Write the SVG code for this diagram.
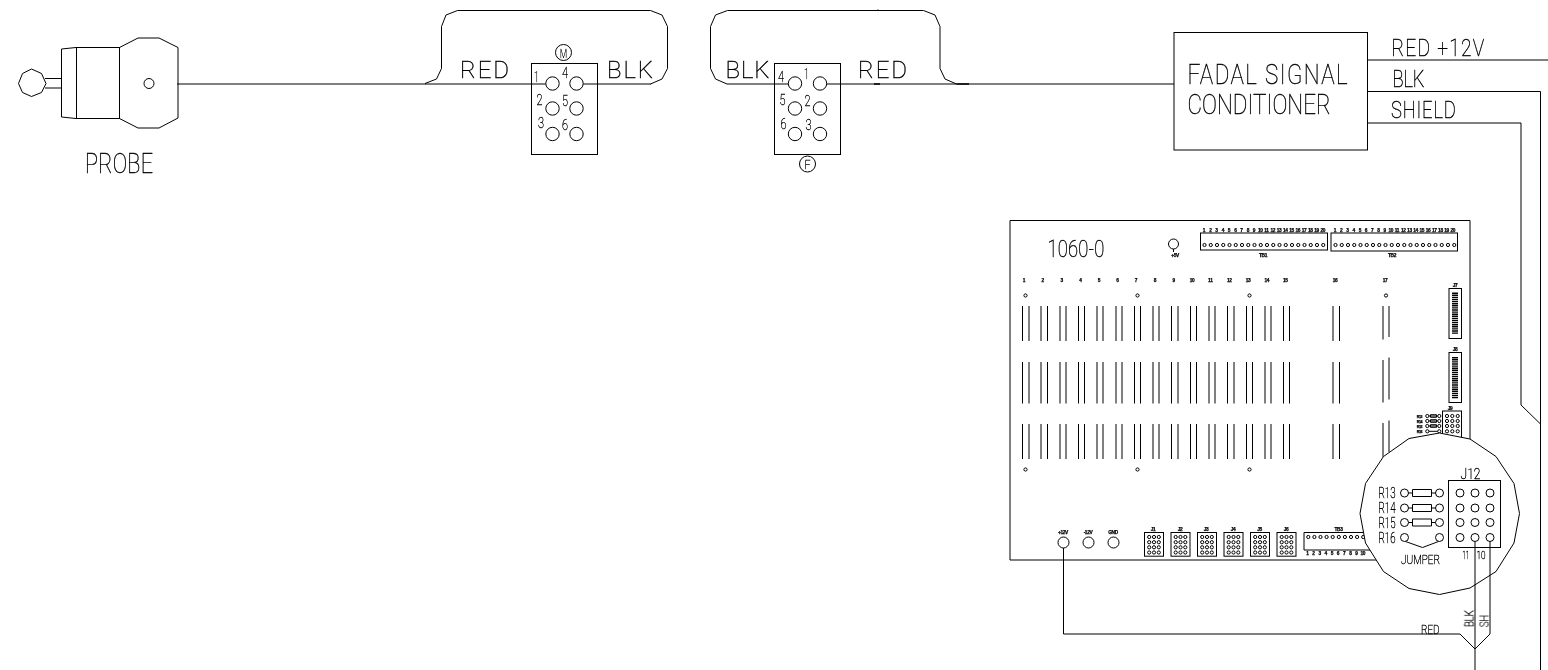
<svg xmlns="http://www.w3.org/2000/svg" width="1548" height="670" viewBox="0 0 1548 670">
<style>
.l{fill:none;stroke:#000;stroke-width:1}
.w{fill:#fff;stroke:#000;stroke-width:1}
.t{font-family:"Roboto","Liberation Sans",sans-serif;font-weight:100;fill:#000;stroke:#000;stroke-width:.4;filter:url(#gray)}
.u{font-family:"Roboto","Liberation Sans",sans-serif;font-weight:100;fill:#000;stroke:#000;stroke-width:.4;filter:url(#gray)}
.c{font-family:"Roboto","Liberation Sans",sans-serif;font-weight:100;fill:#000;stroke:#000;stroke-width:.35;text-anchor:middle;filter:url(#gray)}
.s{font-family:"Liberation Sans",sans-serif;font-weight:700;font-size:4.8px;letter-spacing:-.35px;fill:#000;stroke:#000;stroke-width:.25;text-anchor:middle;filter:url(#gray)}
.x{font-size:3.6px}
</style>
<defs>
<filter id="gray" x="-20%" y="-20%" width="140%" height="140%" color-interpolation-filters="sRGB"><feOffset dx="0" dy="0"/></filter>
<circle id="hole" r="1.6" class="l"/>
<circle id="pin" r="6.7" class="w"/>
<circle id="pad" r="4" class="l"/>
<g id="hdr">
<rect x="0" y="0" width="19" height="23.7" class="l"/>
<use href="#hole" x="4.7" y="4.5"/><use href="#hole" x="9.5" y="4.5"/><use href="#hole" x="14.3" y="4.5"/>
<use href="#hole" x="4.7" y="9.7"/><use href="#hole" x="9.5" y="9.7"/><use href="#hole" x="14.3" y="9.7"/>
<use href="#hole" x="4.7" y="14.8"/><use href="#hole" x="9.5" y="14.8"/><use href="#hole" x="14.3" y="14.8"/>
<use href="#hole" x="4.7" y="20"/><use href="#hole" x="9.5" y="20"/><use href="#hole" x="14.3" y="20"/>
</g>
<g id="strip">
<use href="#hole" x="0"/><use href="#hole" x="6.25"/><use href="#hole" x="12.5"/><use href="#hole" x="18.75"/><use href="#hole" x="25"/><use href="#hole" x="31.25"/><use href="#hole" x="37.5"/><use href="#hole" x="43.75"/><use href="#hole" x="50"/><use href="#hole" x="56.25"/><use href="#hole" x="62.5"/><use href="#hole" x="68.75"/><use href="#hole" x="75"/><use href="#hole" x="81.25"/><use href="#hole" x="87.5"/><use href="#hole" x="93.75"/><use href="#hole" x="100"/><use href="#hole" x="106.25"/><use href="#hole" x="112.5"/><use href="#hole" x="118.75"/>
</g>
<path id="dip" d="M0 0V42M3 0V42" fill="none" stroke="#000" stroke-width="3" stroke-dasharray="1.4 .7"/>
</defs>

<g id="probe">
<path class="l" d="M18.5 83.5L22.5 73.5L31.5 69L41.5 73.5L46 83.5L41.5 92.5L31.5 96.5L22.5 92.5Z"/>
<path class="l" d="M45 78.5H61.5M45 88H61.5M76 47.5L61.5 49V117L76 118.5"/>
<rect class="l" x="76.5" y="47.5" width="43" height="71"/>
<path class="l" d="M119.5 47.5L138 38H159L178 47.5V118L159 128H138L119.5 118.5"/>
<circle class="l" cx="149" cy="83.5" r="5"/>
<text class="t" transform="translate(85 173) scale(.8 1)" font-size="27" textLength="85">PROBE</text>
</g>

<g id="cable-male">
<path class="l" d="M425 83.5L436.5 79L441.5 68.5V26.5L446 15L457.5 10.5H650.5L662 15L667.5 26.5V68.5L662 79L650.5 84"/>
<text class="t" x="460" y="77.5" font-size="24" textLength="49">RED</text>
<text class="t" x="607" y="77.5" font-size="24" textLength="46">BLK</text>
</g>

<g id="connector-male">
<rect class="l" x="531.5" y="63.5" width="66" height="91"/>
<circle class="l" cx="563.5" cy="52.5" r="8"/>
<text class="c" x="563.5" y="57.5" font-size="13" textLength="7" lengthAdjust="spacingAndGlyphs">M</text>
<use href="#pin" x="552.5" y="83.5"/><use href="#pin" x="576.5" y="83.5"/>
<use href="#pin" x="552.5" y="108.5"/><use href="#pin" x="576.5" y="108.5"/>
<use href="#pin" x="552.5" y="134"/><use href="#pin" x="576.5" y="134"/>
<text class="c" x="536.5" y="82" font-size="15" textLength="5" lengthAdjust="spacingAndGlyphs">1</text>
<text class="c" x="565" y="78" font-size="15" textLength="6" lengthAdjust="spacingAndGlyphs">4</text>
<text class="c" x="539.5" y="105" font-size="15" textLength="6" lengthAdjust="spacingAndGlyphs">2</text>
<text class="c" x="565" y="106" font-size="15" textLength="6" lengthAdjust="spacingAndGlyphs">5</text>
<text class="c" x="541" y="128" font-size="15" textLength="6" lengthAdjust="spacingAndGlyphs">3</text>
<text class="c" x="565" y="130" font-size="15" textLength="6" lengthAdjust="spacingAndGlyphs">6</text>
</g>

<g id="cable-female">
<path class="l" d="M727 84L715.5 79L710.5 68.5V26.5L715.5 15L727.5 10.5H923.5L935 15L940 26.5V68.5L945 79L956.5 84"/>
<path d="M956.5 84H969M874 84H880" stroke="#000" stroke-width="1.5" fill="none"/>
<path d="M878 9.5V11" stroke="#000" fill="none"/>
<text class="t" x="725.5" y="77.5" font-size="24" textLength="44">BLK</text>
<text class="t" x="858" y="77.5" font-size="24" textLength="49">RED</text>
</g>

<g id="connector-female">
<rect class="l" x="774.5" y="63.5" width="66" height="91"/>
<circle class="l" cx="807.5" cy="164" r="8"/>
<text class="c" x="807.5" y="169" font-size="13" textLength="6" lengthAdjust="spacingAndGlyphs">F</text>
<use href="#pin" x="795" y="83.5"/><use href="#pin" x="820" y="83.5"/>
<use href="#pin" x="795" y="108.5"/><use href="#pin" x="820" y="108.5"/>
<use href="#pin" x="795" y="134"/><use href="#pin" x="820" y="134"/>
<text class="c" x="781" y="82" font-size="15" textLength="6" lengthAdjust="spacingAndGlyphs">4</text>
<text class="c" x="806.5" y="79" font-size="15" textLength="5" lengthAdjust="spacingAndGlyphs">1</text>
<text class="c" x="782.5" y="105" font-size="15" textLength="6" lengthAdjust="spacingAndGlyphs">5</text>
<text class="c" x="807.5" y="106" font-size="15" textLength="6" lengthAdjust="spacingAndGlyphs">2</text>
<text class="c" x="783.5" y="129" font-size="15" textLength="6" lengthAdjust="spacingAndGlyphs">6</text>
<text class="c" x="808.5" y="130" font-size="15" textLength="6" lengthAdjust="spacingAndGlyphs">3</text>
</g>

<g id="signal-conditioner">
<rect class="l" x="1174" y="32.5" width="193.5" height="117.5"/>
<text class="t" transform="translate(1187.5 84) scale(.8 1)" font-size="28" textLength="200">FADAL SIGNAL</text>
<text class="t" transform="translate(1187.5 113.5) scale(.8 1)" font-size="28" textLength="179">CONDITIONER</text>
<text class="t" transform="translate(1391.5 56) scale(.8 1)" font-size="24" textLength="116">RED +12V</text>
<text class="t" transform="translate(1392.5 86.5) scale(.8 1)" font-size="23" textLength="40">BLK</text>
<text class="t" transform="translate(1391 117.5) scale(.8 1)" font-size="23" textLength="81">SHIELD</text>
</g>

<g id="board">
<path class="l" d="M1010 560V220.5H1470V560M1010 560H1470"/>
<text class="t" transform="translate(1047.5 257) scale(.8 1)" font-size="23" textLength="71">1060-0</text>
<circle class="l" cx="1173.5" cy="244" r="5"/>
<path class="l" d="M1173.5 249V252"/>
<text class="s" x="1175" y="256.5">+5V</text>

<rect class="l" x="1200.5" y="233" width="127" height="17"/>
<use href="#strip" x="1204.5" y="245"/>
<rect class="l" x="1331" y="233" width="126.5" height="18"/>
<use href="#strip" x="1335.5" y="245"/>
<text class="s" x="1263" y="257">TB1</text>
<text class="s" x="1392" y="257">TB2</text>

<g id="tb1-numbers">
<text class="s" x="1204" y="231.5">1</text><text class="s" x="1210.3" y="231.5">2</text><text class="s" x="1216.5" y="231.5">3</text><text class="s" x="1222.8" y="231.5">4</text><text class="s" x="1229" y="231.5">5</text><text class="s" x="1235.3" y="231.5">6</text><text class="s" x="1241.5" y="231.5">7</text><text class="s" x="1247.8" y="231.5">8</text><text class="s" x="1254" y="231.5">9</text><text class="s" x="1260.3" y="231.5">10</text><text class="s" x="1266.5" y="231.5">11</text><text class="s" x="1272.8" y="231.5">12</text><text class="s" x="1279" y="231.5">13</text><text class="s" x="1285.3" y="231.5">14</text><text class="s" x="1291.5" y="231.5">15</text><text class="s" x="1297.8" y="231.5">16</text><text class="s" x="1304" y="231.5">17</text><text class="s" x="1310.3" y="231.5">18</text><text class="s" x="1316.5" y="231.5">19</text><text class="s" x="1322.8" y="231.5">20</text>
</g>
<g id="tb2-numbers">
<text class="s" x="1335" y="231.5">1</text><text class="s" x="1341.2" y="231.5">2</text><text class="s" x="1347.4" y="231.5">3</text><text class="s" x="1353.6" y="231.5">4</text><text class="s" x="1359.8" y="231.5">5</text><text class="s" x="1366" y="231.5">6</text><text class="s" x="1372.2" y="231.5">7</text><text class="s" x="1378.4" y="231.5">8</text><text class="s" x="1384.6" y="231.5">9</text><text class="s" x="1390.8" y="231.5">10</text><text class="s" x="1397" y="231.5">11</text><text class="s" x="1403.2" y="231.5">12</text><text class="s" x="1409.4" y="231.5">13</text><text class="s" x="1415.6" y="231.5">14</text><text class="s" x="1421.8" y="231.5">15</text><text class="s" x="1428" y="231.5">16</text><text class="s" x="1434.2" y="231.5">17</text><text class="s" x="1440.4" y="231.5">18</text><text class="s" x="1446.6" y="231.5">19</text><text class="s" x="1452.8" y="231.5">20</text>
</g>
<g id="slot-numbers">
<text class="s" x="1024" y="282">1</text><text class="s" x="1042.7" y="282">2</text><text class="s" x="1061.7" y="282">3</text><text class="s" x="1080.3" y="282">4</text><text class="s" x="1099" y="282">5</text><text class="s" x="1117.3" y="282">6</text><text class="s" x="1136" y="282">7</text><text class="s" x="1155" y="282">8</text><text class="s" x="1173.7" y="282">9</text><text class="s" x="1192" y="282">10</text><text class="s" x="1210.3" y="282">11</text><text class="s" x="1229.3" y="282">12</text><text class="s" x="1248" y="282">13</text><text class="s" x="1266.7" y="282">14</text><text class="s" x="1285.3" y="282">15</text><text class="s" x="1335" y="282">16</text><text class="s" x="1385" y="282">17</text>
</g>
<use href="#hole" x="1025.5" y="295.5"/><use href="#hole" x="1137.5" y="295.5"/><use href="#hole" x="1249.5" y="295.5"/><use href="#hole" x="1386" y="295.5"/>
<use href="#hole" x="1025.5" y="469.5"/><use href="#hole" x="1137.5" y="469.5"/><use href="#hole" x="1249.5" y="469.5"/>

<path class="l" d="M1022.5 306v35M1029 306v35M1041 306v35M1047.5 306v35M1060 306v35M1066 306v35M1078.5 306v35M1084.5 306v35M1097 306v35M1103 306v35M1116 306v35M1122 306v35M1134.5 306v35M1140.5 306v35M1153 306v35M1159 306v35M1171.5 306v35M1178 306v35M1190.5 306v35M1196.5 306v35M1209 306v35M1215 306v35M1227.5 306v35M1234 306v35M1246.5 306v35M1252.5 306v35M1265 306v35M1271 306v35M1283.5 306v35M1289.5 306v35M1333 306v35M1339.5 306v35M1383 306v33.5M1389 306v31"/>
<path class="l" d="M1022.5 362v41.5M1029 362v41.5M1041 362v41.5M1047.5 362v41.5M1060 362v41.5M1066 362v41.5M1078.5 362v41.5M1084.5 362v41.5M1097 362v41.5M1103 362v41.5M1116 362v41.5M1122 362v41.5M1134.5 362v41.5M1140.5 362v41.5M1153 362v41.5M1159 362v41.5M1171.5 362v41.5M1178 362v41.5M1190.5 362v41.5M1196.5 362v41.5M1209 362v41.5M1215 362v41.5M1227.5 362v41.5M1234 362v41.5M1246.5 362v41.5M1252.5 362v41.5M1265 362v41.5M1271 362v41.5M1283.5 362v41.5M1289.5 362v41.5M1333 362v41.5M1339.5 362v41.5M1383 360v42.5M1389 357.5v42"/>
<path class="l" d="M1022.5 424v35M1029 424v35M1041 424v35M1047.5 424v35M1060 424v35M1066 424v35M1078.5 424v35M1084.5 424v35M1097 424v35M1103 424v35M1116 424v35M1122 424v35M1134.5 424v35M1140.5 424v35M1153 424v35M1159 424v35M1171.5 424v35M1178 424v35M1190.5 424v35M1196.5 424v35M1209 424v35M1215 424v35M1227.5 424v35M1234 424v35M1246.5 424v35M1252.5 424v35M1265 424v35M1271 424v35M1283.5 424v35M1289.5 424v35M1333 424v35M1339.5 424v35M1383 423v34M1389 420.5v31.5"/>

<rect class="l" x="1449" y="288.5" width="12.5" height="50"/>
<use href="#dip" x="1453.5" y="292.5"/>
<text class="s" x="1455" y="287">J7</text>
<rect class="l" x="1449" y="352.5" width="12.5" height="50"/>
<use href="#dip" x="1453.5" y="357"/>
<text class="s" x="1455" y="351">J8</text>

<rect class="l" x="1442.5" y="411" width="19" height="27"/>
<text class="s" x="1450" y="410">J9</text>
<use href="#hole" x="1447" y="416"/><use href="#hole" x="1452.3" y="416"/><use href="#hole" x="1457.7" y="416"/>
<use href="#hole" x="1447" y="421"/><use href="#hole" x="1452.3" y="421"/><use href="#hole" x="1457.7" y="421"/>
<use href="#hole" x="1447" y="426"/><use href="#hole" x="1452.3" y="426"/><use href="#hole" x="1457.7" y="426"/>
<use href="#hole" x="1447" y="431.3"/><use href="#hole" x="1452.3" y="431.3"/><use href="#hole" x="1457.7" y="431.3"/>
<g id="small-resistors">
<text class="s x" x="1419.5" y="417.5">R13</text><text class="s x" x="1419.5" y="422.5">R14</text><text class="s x" x="1419.5" y="427.5">R15</text><text class="s x" x="1419.5" y="433">R16</text>
<use href="#hole" x="1427.3" y="416"/><use href="#hole" x="1439.3" y="416"/><use href="#hole" x="1427.3" y="421"/><use href="#hole" x="1439.3" y="421"/><use href="#hole" x="1427.3" y="426"/><use href="#hole" x="1439.3" y="426"/><use href="#hole" x="1427.3" y="431.3"/><use href="#hole" x="1439.3" y="431.3"/>
<path class="l" d="M1429 416H1437.5M1429 421H1437.5M1429 426H1437.5M1429 431.3H1437.5M1430.5 414.7H1436.5V417.3H1430.5ZM1430.5 419.7H1436.5V422.3H1430.5ZM1430.5 424.7H1436.5V427.3H1430.5Z"/>
</g>

<circle class="l" cx="1063.5" cy="542.5" r="5.5"/><circle class="l" cx="1088.5" cy="542.5" r="5.5"/><circle class="l" cx="1113.5" cy="542.5" r="5.5"/>
<text class="s" x="1063" y="534">+12V</text><text class="s" x="1088" y="534">-12V</text><text class="s" x="1113" y="534">GND</text>

<use href="#hdr" x="1144.5" y="532.5"/><use href="#hdr" x="1171" y="532.5"/><use href="#hdr" x="1197.5" y="532.5"/><use href="#hdr" x="1224" y="532.5"/><use href="#hdr" x="1250.5" y="532.5"/><use href="#hdr" x="1277" y="532.5"/>
<text class="s" x="1153" y="531">J1</text><text class="s" x="1180" y="531">J2</text><text class="s" x="1206" y="531">J3</text><text class="s" x="1233" y="531">J4</text><text class="s" x="1259.5" y="531">J5</text><text class="s" x="1286" y="531">J6</text>

<path class="l" d="M1375 532.5H1304V550H1375"/>
<use href="#hole" x="1308.3" y="537"/><use href="#hole" x="1314.4" y="537"/><use href="#hole" x="1320.5" y="537"/><use href="#hole" x="1326.6" y="537"/><use href="#hole" x="1332.7" y="537"/><use href="#hole" x="1338.8" y="537"/><use href="#hole" x="1344.9" y="537"/><use href="#hole" x="1351" y="537"/><use href="#hole" x="1357.1" y="537"/><use href="#hole" x="1363.2" y="537"/>
<text class="s" x="1338.5" y="531">TB3</text>
<text class="s" x="1307.3" y="555">1</text><text class="s" x="1313.4" y="555">2</text><text class="s" x="1319.6" y="555">3</text><text class="s" x="1325.7" y="555">4</text><text class="s" x="1331.9" y="555">5</text><text class="s" x="1338" y="555">6</text><text class="s" x="1344.2" y="555">7</text><text class="s" x="1350.3" y="555">8</text><text class="s" x="1356.5" y="555">9</text><text class="s" x="1362.7" y="555">10</text>
</g>

<g id="j12-detail">
<path class="w" d="M1439.5 433L1470 439L1496 456.5L1514 483.5L1519.5 513.5L1514 543L1496 571.5L1470 588L1439.5 594.5L1409 588.5L1383.5 571.5L1365.5 543L1360 513.5L1365.5 483.5L1383.5 456.5L1409 438.5Z"/>
<rect class="l" x="1448.5" y="480.5" width="52" height="67"/>
<text class="u" x="1460.5" y="479" font-size="15" textLength="20" lengthAdjust="spacingAndGlyphs">J12</text>
<use href="#pad" x="1460" y="493"/><use href="#pad" x="1475" y="493"/><use href="#pad" x="1490" y="493"/>
<use href="#pad" x="1460" y="508"/><use href="#pad" x="1475" y="508"/><use href="#pad" x="1490" y="508"/>
<use href="#pad" x="1460" y="522.5"/><use href="#pad" x="1475" y="522.5"/><use href="#pad" x="1490" y="522.5"/>
<use href="#pad" x="1460" y="537.5"/><use href="#pad" x="1475" y="537.5"/><use href="#pad" x="1490" y="537.5"/>
<text class="u" x="1378.5" y="497.5" font-size="14" textLength="17" lengthAdjust="spacingAndGlyphs">R13</text>
<text class="u" x="1378.5" y="512.5" font-size="14" textLength="17" lengthAdjust="spacingAndGlyphs">R14</text>
<text class="u" x="1378.5" y="527.5" font-size="14" textLength="17" lengthAdjust="spacingAndGlyphs">R15</text>
<text class="u" x="1378.5" y="542.5" font-size="14" textLength="17" lengthAdjust="spacingAndGlyphs">R16</text>
<use href="#pad" x="1404.5" y="493"/><use href="#pad" x="1439.5" y="493"/>
<use href="#pad" x="1404.5" y="508"/><use href="#pad" x="1439.5" y="508"/>
<use href="#pad" x="1404.5" y="522.5"/><use href="#pad" x="1439.5" y="522.5"/>
<use href="#pad" x="1404.5" y="537.5"/><use href="#pad" x="1439.5" y="537.5"/>
<path class="l" d="M1408.5 493H1412.5M1431.5 493H1435.5M1412.5 489.5H1431.5V496.5H1412.5ZM1408.5 508H1412.5M1431.5 508H1435.5M1412.5 504.5H1431.5V511.5H1412.5ZM1408.5 522.5H1412.5M1431.5 522.5H1435.5M1412.5 519H1431.5V526H1412.5ZM1405.5 541.5L1422.5 547.5L1438.5 541.5"/>
<text class="u" x="1401" y="563.5" font-size="13" textLength="39" lengthAdjust="spacingAndGlyphs">JUMPER</text>
<text class="u" x="1462.5" y="559" font-size="11" textLength="6.5" lengthAdjust="spacingAndGlyphs">11</text>
<text class="u" x="1476.5" y="559" font-size="11" textLength="9" lengthAdjust="spacingAndGlyphs">10</text>
</g>

<g id="connectors">
<path class="l" d="M177 84H425.5"/>
<path class="l" d="M425 84H545.8M583.2 84H651"/>
<path class="l" d="M727 84H788.3M826.7 84H1174"/>
<path class="l" d="M1367.5 60H1548"/>
<path class="l" d="M1367.5 91.5H1540.5V670"/>
<path class="l" d="M1367.5 123H1521V405L1540.5 424"/>
<path class="l" d="M1063.5 548V634H1460L1475 649"/>
<path class="l" d="M1475 541.5V670"/>
<path class="l" d="M1490 541.5V634L1475 649"/>
<text class="u" x="1421" y="633.5" font-size="12.5" textLength="18.5" lengthAdjust="spacingAndGlyphs">RED</text>
<text class="u" transform="translate(1473.5 627) rotate(-90)" font-size="12" textLength="17" lengthAdjust="spacingAndGlyphs">BLK</text>
<text class="u" transform="translate(1488.5 627) rotate(-90)" font-size="12" textLength="12" lengthAdjust="spacingAndGlyphs">SH</text>
</g>
</svg>
